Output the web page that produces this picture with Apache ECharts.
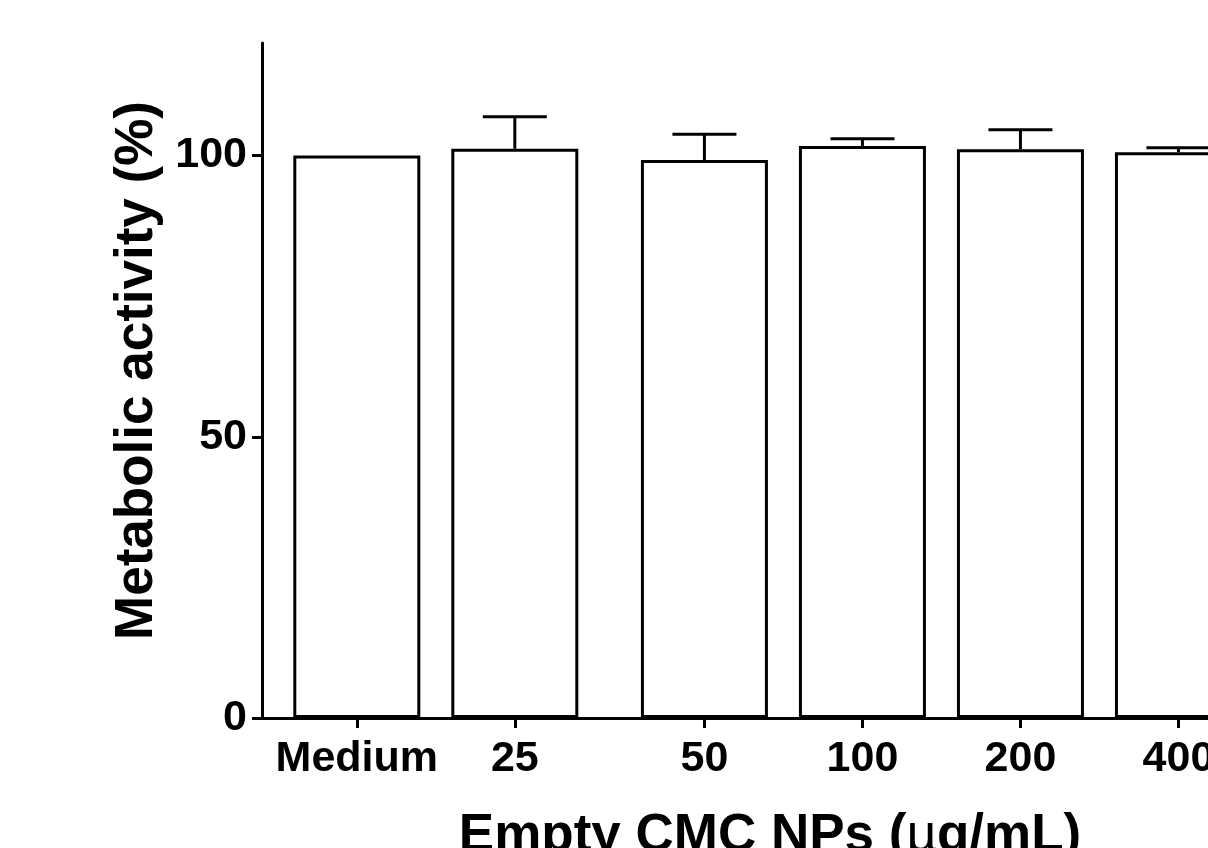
<!DOCTYPE html>
<html>
<head>
<meta charset="utf-8">
<script src="https://cdn.jsdelivr.net/npm/echarts@6/dist/echarts.min.js"></script>
<style>html,body{margin:0;padding:0;background:#fff;}#c{width:1208px;height:848px;}</style>
</head>
<body>
<div id="c"></div>
<script>
// Data
const categories = ['Medium', '25', '50', '100', '200', '400'];
const positions = [0, 1, 2.2, 3.2, 4.2, 5.2];   // x placement of each group (gap after 25)
const means = [100, 101.2, 99.2, 101.7, 101.1, 100.6];
const errors = [0, 5.7, 4.6, 1.3, 3.5, 0.8];
const yTicks = [0, 50, 100];

const FONT = '"Liberation Sans", Arial, Helvetica, sans-serif';
const chart = echarts.init(document.getElementById('c'));

const barData = positions.map((p, i) => [p, means[i]]);
const errData = positions.map((p, i) => [p, means[i], means[i] + errors[i]]);

function labelFor(v) {
  for (let i = 0; i < positions.length; i++) {
    if (Math.abs(positions[i] - v) < 1e-6) return categories[i];
  }
  return '';
}

chart.setOption({
  animation: false,
  backgroundColor: '#fff',
  grid: { left: 262, top: 43, width: 1016, height: 675, containLabel: false, outerBoundsMode: 'none' },
  xAxis: {
    type: 'value',
    min: -0.6,
    max: 5.83,
    splitLine: { show: false },
    axisLine: { show: true, onZero: false, lineStyle: { color: '#000', width: 3 } },
    axisTick: { show: true, length: 10, lineStyle: { color: '#000', width: 3 }, customValues: positions },
    axisLabel: {
      customValues: positions,
      formatter: labelFor,
      color: '#000', fontFamily: FONT, fontWeight: 'bold', fontSize: 43, margin: 20
    },
    name: 'Empty CMC NPs ({mu|µ}g/mL)',
    nameLocation: 'middle',
    nameGap: 92,
    nameTextStyle: {
      color: '#000', fontFamily: FONT, fontWeight: 'bold', fontSize: 53,
      rich: { mu: { fontFamily: FONT, fontWeight: 'normal', fontSize: 53, color: '#000' } }
    }
  },
  yAxis: {
    type: 'value',
    min: 0,
    max: 120,
    interval: 50,
    splitLine: { show: false },
    axisLine: { show: true, onZero: false, lineStyle: { color: '#000', width: 3 } },
    axisTick: { show: true, length: 10, lineStyle: { color: '#000', width: 3 }, customValues: yTicks },
    axisLabel: {
      customValues: yTicks,
      color: '#000', fontFamily: FONT, fontWeight: 'bold', fontSize: 43, margin: 15
    },
    name: 'Metabolic activity (%)',
    nameLocation: 'middle',
    nameGap: 90,
    nameTextStyle: { color: '#000', fontFamily: FONT, fontWeight: 'bold', fontSize: 53, padding: [0, 0, 0, 20] }
  },
  series: [
    {
      type: 'bar',
      data: barData,
      barWidth: 127,
      itemStyle: { color: '#fff', borderColor: '#000', borderWidth: 3 },
      z: 2
    },
    {
      type: 'custom',
      data: errData,
      z: 3,
      renderItem: function (params, api) {
        const x = api.value(0);
        const top = api.coord([x, api.value(2)]);
        const base = api.coord([x, api.value(1)]);
        if (api.value(2) - api.value(1) <= 0) return { type: 'group', children: [] };
        const half = 32;
        const style = { stroke: '#000', lineWidth: 3, fill: null };
        return {
          type: 'group',
          children: [
            { type: 'line', shape: { x1: base[0], y1: base[1], x2: top[0], y2: top[1] }, style: style },
            { type: 'line', shape: { x1: top[0] - half, y1: top[1], x2: top[0] + half, y2: top[1] }, style: style }
          ]
        };
      }
    }
  ]
});
</script>
</body>
</html>
